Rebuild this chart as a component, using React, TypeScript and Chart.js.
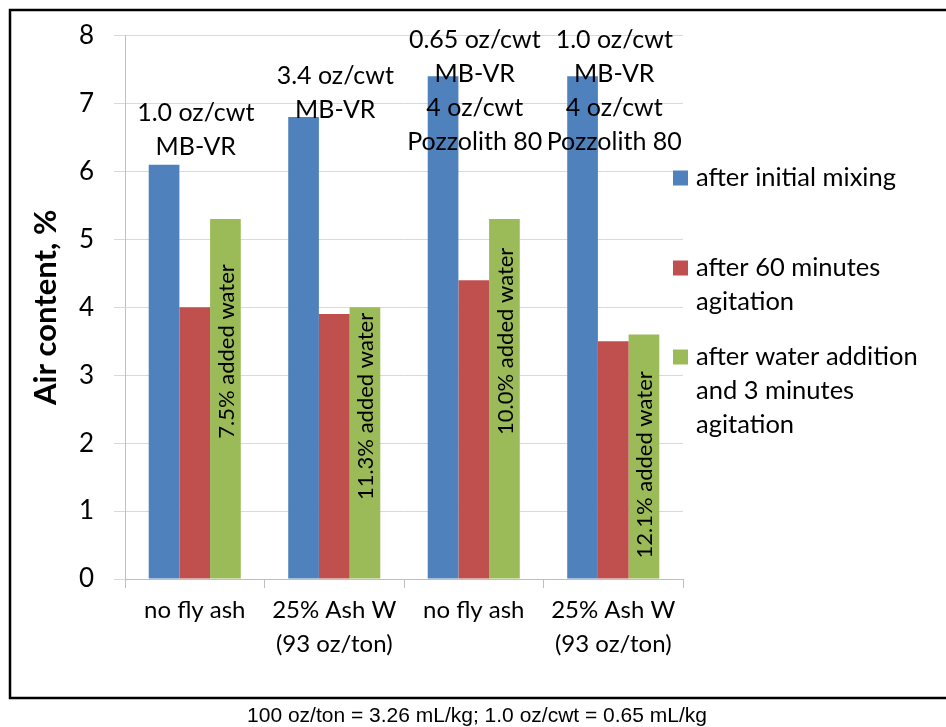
import React, { useEffect, useRef } from "react";
import { Chart, registerables } from "chart.js";

Chart.register(...registerables);

// ---- data ----
const categories: string[][] = [
  ["no fly ash"],
  ["25% Ash W", "(93 oz/ton)"],
  ["no fly ash"],
  ["25% Ash W", "(93 oz/ton)"],
];
const seriesNames = [
  "after initial mixing",
  "after 60 minutes agitation",
  "after water addition and 3 minutes agitation",
];
const legendLines: string[][] = [
  ["after initial mixing"],
  ["after 60 minutes", "agitation"],
  ["after water addition", "and 3 minutes", "agitation"],
];
const afterInitialMixing = [6.1, 6.8, 7.4, 7.4];
const after60Minutes = [4.0, 3.9, 4.4, 3.5];
const afterWaterAddition = [5.3, 4.0, 5.3, 3.6];
const dosageLabels: string[][] = [
  ["1.0 oz/cwt", "MB-VR"],
  ["3.4 oz/cwt", "MB-VR"],
  ["0.65 oz/cwt", "MB-VR", "4 oz/cwt", "Pozzolith 80"],
  ["1.0 oz/cwt", "MB-VR", "4 oz/cwt", "Pozzolith 80"],
];
const waterLabels = [
  "7.5% added water",
  "11.3% added water",
  "10.0% added water",
  "12.1% added water",
];
const yTicks = [0, 1, 2, 3, 4, 5, 6, 7, 8];
const yTitle = "Air content, %";
const caption = "100 oz/ton = 3.26 mL/kg; 1.0 oz/cwt = 0.65 mL/kg";

// ---- styles / layout ----
const COLORS = ["#4f81bd", "#c0504d", "#9bbb59"];
const FONT = "Lato, 'Open Sans', sans-serif";
// first-line anchor of dosage labels (axis units)
const dosageAnchor = [6.86, 7.4, 7.94, 7.94];
// centre of rotated water labels (axis units)
const waterAnchor = [3.35, 2.54, 3.5, 1.68];

const overlayPlugin = {
  id: "overlay",
  afterDraw(chart: any) {
    const ctx = chart.ctx as CanvasRenderingContext2D;
    const y = chart.scales.y;
    const x = chart.scales.x;
    ctx.save();

    // frame
    ctx.strokeStyle = "#000";
    ctx.lineWidth = 2.5;
    ctx.strokeRect(10, 10, 960, 688);

    // caption
    ctx.fillStyle = "#000";
    ctx.font = "21px 'Liberation Sans', Arial, sans-serif";
    ctx.textAlign = "center";
    ctx.textBaseline = "middle";
    ctx.fillText(caption, 477, 716);

    // y title
    ctx.save();
    ctx.translate(46, (chart.chartArea.top + chart.chartArea.bottom) / 2);
    ctx.rotate(-Math.PI / 2);
    ctx.font = `bold 31px ${FONT}`;
    ctx.textAlign = "center";
    ctx.textBaseline = "middle";
    ctx.fillText(yTitle, 0, 0);
    ctx.restore();

    // legend
    ctx.font = `25.5px ${FONT}`;
    ctx.textAlign = "left";
    ctx.textBaseline = "middle";
    const legendY = [178, 268, 357];
    legendLines.forEach((lines, i) => {
      ctx.fillStyle = COLORS[i];
      ctx.fillRect(673, legendY[i] - 7.5, 15, 15);
      ctx.fillStyle = "#000";
      lines.forEach((t, j) => ctx.fillText(t, 696, legendY[i] + j * 34));
    });

    // dosage labels above groups
    ctx.font = `25px ${FONT}`;
    ctx.textAlign = "center";
    dosageLabels.forEach((lines, i) => {
      const cx = x.getPixelForValue(i) + 1;
      const y0 = y.getPixelForValue(dosageAnchor[i]);
      lines.forEach((t, j) => ctx.fillText(t, cx, y0 + j * 34));
    });

    // rotated water labels inside green bars
    const meta = chart.getDatasetMeta(2);
    ctx.font = `22px ${FONT}`;
    waterLabels.forEach((t, i) => {
      const bar = meta.data[i];
      ctx.save();
      ctx.translate(bar.x, y.getPixelForValue(waterAnchor[i]));
      ctx.rotate(-Math.PI / 2);
      ctx.textAlign = "center";
      ctx.textBaseline = "middle";
      ctx.fillStyle = "#000";
      ctx.fillText(t, 0, 1);
      ctx.restore();
    });

    ctx.restore();
  },
};

export default function App() {
  const ref = useRef<HTMLCanvasElement | null>(null);
  useEffect(() => {
    if (!ref.current) return;
    const chart = new Chart(ref.current, {
      type: "bar",
      data: {
        labels: categories,
        datasets: [
          { label: seriesNames[0], data: afterInitialMixing, backgroundColor: COLORS[0] },
          { label: seriesNames[1], data: after60Minutes, backgroundColor: COLORS[1] },
          { label: seriesNames[2], data: afterWaterAddition, backgroundColor: COLORS[2] },
        ],
      },
      options: {
        responsive: false,
        devicePixelRatio: 1,
        animation: false,
        layout: { padding: { left: 0, right: 263, top: 32, bottom: 0 } },
        datasets: { bar: { categoryPercentage: 0.66, barPercentage: 1.0 } },
        plugins: {
          legend: { display: false },
          tooltip: { enabled: false },
        },
        scales: {
          x: {
            afterFit: (s: any) => {
              s.height = 148;
            },
            grid: {
              drawOnChartArea: false,
              drawTicks: true,
              tickLength: 9,
              color: "#bfbfbf",
              offset: true,
            },
            border: { color: "#bfbfbf" },
            ticks: {
              color: "#000",
              padding: 5,
              maxRotation: 0,
              autoSkip: false,
              font: { family: FONT, size: 24, lineHeight: 34 / 24 },
            },
          },
          y: {
            min: 0,
            max: 8,
            afterFit: (s: any) => {
              s.width = 125;
            },
            afterBuildTicks: (s: any) => {
              s.ticks = yTicks.map((v) => ({ value: v }));
            },
            grid: { color: "#d9d9d9", tickLength: 11 },
            border: { color: "#bfbfbf" },
            ticks: {
              color: "#000",
              padding: 20,
              font: { family: FONT, size: 26 },
              callback: (v: any) => String(v),
            },
          },
        },
      },
      plugins: [overlayPlugin],
    });
    return () => chart.destroy();
  }, []);
  return (
    <div style={{ position: "absolute", left: 0, top: 0, width: 946, height: 727, background: "#fff" }}>
      <canvas ref={ref} width={946} height={727} style={{ display: "block" }} />
    </div>
  );
}
